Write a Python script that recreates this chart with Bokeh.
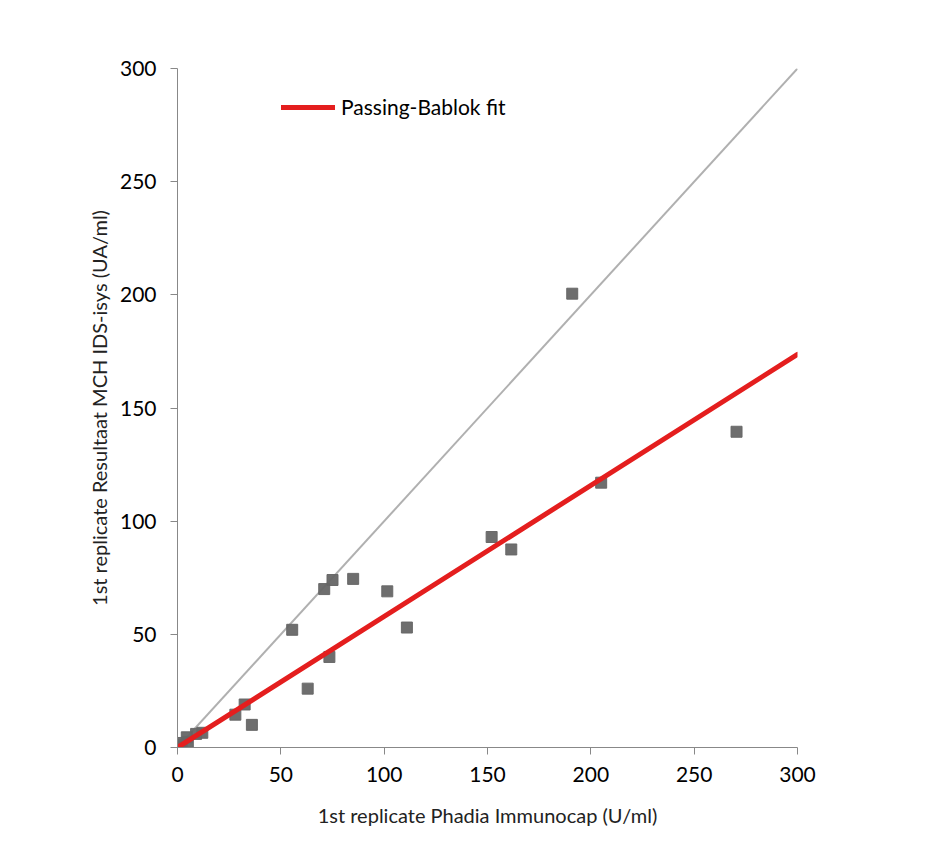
from bokeh.plotting import figure
from bokeh.models import Range1d, FixedTicker, Legend, LegendItem
from bokeh.embed import file_html
from bokeh.resources import INLINE

# Data
phadia = [191, 270.5, 205, 152, 161.5, 85, 75, 71, 101.5, 111, 55.5, 73.5, 63,
          32.5, 28, 36, 12, 9, 5, 4.5, 2, 1, 0.5, 0]
ids_isys = [200.5, 139.5, 117, 93, 87.5, 74.5, 74, 70, 69, 53, 52, 40, 26,
            19, 14.5, 10, 6.5, 6, 2.5, 4.5, 2, 1, 0, 0]
identity_x = [0, 300]
identity_y = [0, 300]
fit_x = [0, 300]
fit_y = [0, 173.7]
ticks = [0, 50, 100, 150, 200, 250, 300]

FONT = "Lato"

p = figure(width=940, height=840, output_backend="svg", toolbar_location=None,
           x_range=Range1d(0, 300), y_range=Range1d(0, 300),
           frame_width=620, frame_height=679,
           min_border_left=177, min_border_top=68, min_border_right=143, min_border_bottom=93)
p.outline_line_color = None
p.xgrid.visible = False
p.ygrid.visible = False
p.background_fill_color = "white"
p.border_fill_color = "white"

p.line(identity_x, identity_y, line_color="#b0b0b0", line_width=2)
p.scatter(phadia, ids_isys, marker="square", size=11, fill_color="#666666",
          line_color="#666666", fill_alpha=0.95, line_alpha=0.95)
fit = p.line(fit_x, fit_y, line_color="#e41e1e", line_width=5, line_cap="round")

for ax in (p.xaxis[0], p.yaxis[0]):
    ax.ticker = FixedTicker(ticks=ticks)
    ax.axis_line_color = "#888888"
    ax.major_tick_line_color = "#888888"
    ax.major_tick_out = 7
    ax.major_tick_in = 0
    ax.minor_tick_line_color = None
    ax.major_label_text_font = FONT
    ax.major_label_text_font_size = "21px"
    ax.major_label_text_color = "#000000"
    ax.axis_label_text_font = FONT
    ax.axis_label_text_font_size = "20px"
    ax.axis_label_text_font_style = "normal"
    ax.axis_label_text_color = "#222222"

p.xaxis.axis_label = "1st replicate Phadia Immunocap (U/ml)"
p.yaxis.axis_label = "1st replicate Resultaat MCH IDS-isys (UA/ml)"
p.xaxis.major_label_standoff = 12
p.yaxis.major_label_standoff = 14
p.xaxis.axis_label_standoff = 18
p.yaxis.axis_label_standoff = 6

legend = Legend(items=[LegendItem(label="Passing-Bablok fit", renderers=[fit])],
                location=(104, 628), glyph_width=54, glyph_height=22,
                label_standoff=6, padding=0, margin=0,
                border_line_alpha=0, background_fill_alpha=0,
                label_text_font=FONT, label_text_font_size="21px",
                label_text_color="#000000")
p.add_layout(legend, "center")

open("out.html", "w").write(file_html(p, INLINE))
